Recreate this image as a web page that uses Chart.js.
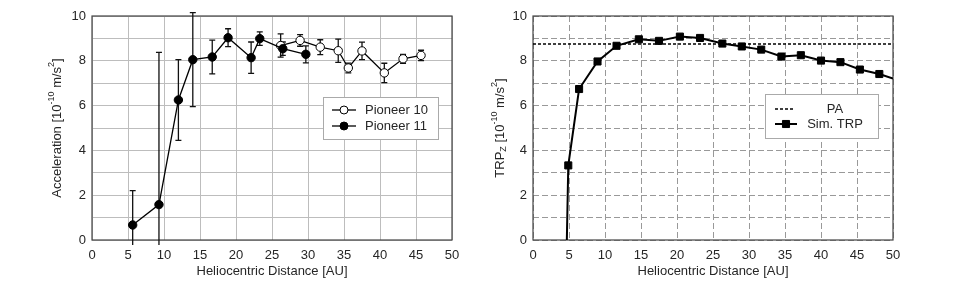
<!DOCTYPE html>
<html>
<head>
<meta charset="utf-8">
<title>Pioneer acceleration vs. simulated TRP</title>
<script src="https://cdn.jsdelivr.net/npm/chart.js@4.4.1/dist/chart.umd.min.js"></script>
<style>
    html, body { margin: 0; padding: 0; background: #fff; }
    #wrap { position: relative; width: 954px; height: 285px; }
    #wrap canvas { position: absolute; top: 0; }
    #accChart { left: 0; }
    #trpChart { left: 477px; }
</style>
</head>
<body>
<div id="wrap">
    <canvas id="accChart" width="477" height="285"></canvas>
    <canvas id="trpChart" width="477" height="285"></canvas>
</div>
<script>
// Pioneer 11 (filled circles) - distance [AU], acceleration [1e-10 m/s^2], error
const p11Dist = [5.65, 9.3, 12.0, 14.0, 16.7, 18.9, 22.1, 23.3, 26.5, 29.7];
const p11Acc  = [0.67, 1.58, 6.25, 8.05, 8.17, 9.03, 8.14, 8.99, 8.54, 8.29];
const p11Err  = [1.53, 6.8, 1.8, 2.1, 0.75, 0.4, 0.7, 0.3, 0.3, 0.38];

// Pioneer 10 (open circles)
const p10Dist = [26.2, 28.9, 31.7, 34.2, 35.6, 37.5, 40.6, 43.2, 45.7];
const p10Acc  = [8.68, 8.91, 8.61, 8.45, 7.68, 8.44, 7.46, 8.09, 8.24];
const p10Err  = [0.52, 0.26, 0.33, 0.52, 0.22, 0.39, 0.43, 0.2, 0.23];

// Simulated thermal recoil (first and last points are line ends, no marker)
const trpDist = [4.7, 4.9, 6.4, 8.96, 11.6, 14.7, 17.5, 20.4, 23.2, 26.3, 29.0, 31.7, 34.5, 37.2, 40.0, 42.7, 45.4, 48.1, 50];
const trpVal  = [0, 3.33, 6.74, 7.97, 8.67, 8.96, 8.89, 9.08, 9.02, 8.77, 8.64, 8.5, 8.19, 8.25, 8.01, 7.94, 7.61, 7.41, 7.21];
const trpMarked = trpDist.map((d, i) => i > 0 && i < trpDist.length - 1);

// Pioneer anomaly level
const paDist  = [0, 50];
const paLevel = 8.75;

const TEXT = '#262626';
const FONT = { family: '"Liberation Sans", Arial, sans-serif', size: 13 };

const toPoints = (xs, ys) => xs.map((x, i) => ({ x, y: ys[i] }));

/**
 * Plot frame drawn around the chart area.
 */
const framePlugin = {
    id: 'frame',
    beforeDatasetsDraw(chart) {
        const { ctx, chartArea: a } = chart;
        ctx.save();
        ctx.strokeStyle = '#444';
        ctx.lineWidth = 1.2;
        ctx.strokeRect(a.left, a.top, a.width, a.height);
        ctx.restore();
    }
};

/**
 * Vertical error bars with caps, read from dataset.errors.
 */
const errorBarPlugin = {
    id: 'errorBars',
    beforeDatasetsDraw(chart) {
        const { ctx, chartArea: a, scales: { x, y } } = chart;
        ctx.save();
        ctx.beginPath();
        ctx.rect(a.left - 10, 0, a.width + 20, a.bottom + 5);
        ctx.clip();
        ctx.strokeStyle = '#111';
        ctx.lineWidth = 1.3;
        chart.data.datasets.forEach(ds => {
            if (!ds.errors) return;
            ds.data.forEach((p, i) => {
                const px = x.getPixelForValue(p.x);
                const top = y.getPixelForValue(p.y + ds.errors[i]);
                const bot = y.getPixelForValue(p.y - ds.errors[i]);
                ctx.beginPath();
                ctx.moveTo(px, top); ctx.lineTo(px, bot);
                ctx.moveTo(px - 3, top); ctx.lineTo(px + 3, top);
                ctx.moveTo(px - 3, bot); ctx.lineTo(px + 3, bot);
                ctx.stroke();
            });
        });
        ctx.restore();
    }
};

/**
 * Rotated y-axis title with super/subscripts.
 */
const richTitlePlugin = {
    id: 'richTitle',
    afterDraw(chart, args, opts) {
        if (!opts.parts) return;
        const { ctx, chartArea: a } = chart;
        const big = `${FONT.size}px ${FONT.family}`;
        const small = `9px ${FONT.family}`;
        ctx.save();
        let total = 0;
        opts.parts.forEach(p => {
            ctx.font = p.sup || p.sub ? small : big;
            p.w = ctx.measureText(p.t).width;
            total += p.w;
        });
        ctx.translate(opts.x, (a.top + a.bottom) / 2);
        ctx.rotate(-Math.PI / 2);
        ctx.fillStyle = TEXT;
        ctx.textBaseline = 'middle';
        let cx = -total / 2;
        opts.parts.forEach(p => {
            ctx.font = p.sup || p.sub ? small : big;
            const dy = p.sup ? -5 : p.sub ? 4 : 0;
            ctx.fillText(p.t, cx, dy);
            cx += p.w;
        });
        ctx.restore();
    }
};

/**
 * Legend box placed inside the plot.
 */
const insetLegendPlugin = {
    id: 'insetLegend',
    afterDraw(chart, args, opts) {
        if (!opts.items) return;
        const { ctx } = chart;
        const b = opts.box;
        ctx.save();
        ctx.fillStyle = '#fff';
        ctx.fillRect(b.left, b.top, b.width, b.height);
        ctx.strokeStyle = '#aaa';
        ctx.lineWidth = 1;
        ctx.strokeRect(b.left + 0.5, b.top + 0.5, b.width, b.height);
        ctx.font = `${FONT.size}px ${FONT.family}`;
        ctx.textBaseline = 'middle';
        opts.items.forEach(it => {
            const mx = (it.x0 + it.x1) / 2;
            ctx.strokeStyle = '#000';
            ctx.lineWidth = it.lineWidth;
            ctx.setLineDash(it.dash || []);
            ctx.beginPath();
            ctx.moveTo(it.x0, it.y);
            ctx.lineTo(it.x1, it.y);
            ctx.stroke();
            ctx.setLineDash([]);
            if (it.marker) {
                ctx.fillStyle = it.fill;
                ctx.lineWidth = 1;
                ctx.beginPath();
                if (it.marker === 'circle') {
                    ctx.arc(mx, it.y, it.radius, 0, Math.PI * 2);
                } else {
                    const s = it.radius * Math.SQRT1_2;
                    ctx.rect(mx - s, it.y - s, s * 2, s * 2);
                }
                ctx.fill();
                ctx.stroke();
            }
            ctx.fillStyle = TEXT;
            ctx.textAlign = it.align;
            ctx.fillText(it.text, it.tx, it.y);
        });
        ctx.restore();
    }
};

/**
 * Shared x axis (heliocentric distance).
 */
function distanceAxis(gridColor, dash) {
    return {
        type: 'linear',
        min: 0,
        max: 50,
        ticks: { stepSize: 5, padding: 8, color: TEXT, font: FONT, autoSkip: false, maxRotation: 0 },
        grid: { drawTicks: false, color: gridColor },
        border: { display: false, dash: dash },
        title: {
            display: true,
            text: 'Heliocentric Distance [AU]',
            color: TEXT,
            font: FONT,
            padding: { top: 0, bottom: 6 }
        },
        afterFit: s => { s.height = 45; }
    };
}

/**
 * Shared y axis (0-10, labels every 2).
 */
function valueAxis(gridColor, dash, width) {
    return {
        type: 'linear',
        min: 0,
        max: 10,
        ticks: {
            stepSize: 1,
            padding: 6,
            color: TEXT,
            font: FONT,
            callback: v => (v % 2 === 0 ? v : '')
        },
        grid: { drawTicks: false, color: gridColor },
        border: { display: false, dash: dash },
        afterFit: s => { s.width = width; }
    };
}

/**
 * Left panel: measured Pioneer 10/11 accelerations.
 */
function createAccelerationChart() {
    new Chart(document.getElementById('accChart'), {
        type: 'line',
        data: {
            datasets: [
                {
                    label: 'Pioneer 11',
                    data: toPoints(p11Dist, p11Acc),
                    errors: p11Err,
                    borderColor: '#000',
                    backgroundColor: '#000',
                    borderWidth: 1.3,
                    pointRadius: 4.2,
                    pointBorderWidth: 1,
                    order: 0
                },
                {
                    label: 'Pioneer 10',
                    data: toPoints(p10Dist, p10Acc),
                    errors: p10Err,
                    borderColor: '#000',
                    backgroundColor: '#fff',
                    borderWidth: 1.3,
                    pointRadius: 4.2,
                    pointBorderWidth: 1,
                    order: 1
                }
            ]
        },
        options: {
            responsive: false,
            animation: false,
            devicePixelRatio: 1,
            layout: { padding: { left: 0, right: 25, top: 16, bottom: 0 } },
            plugins: {
                legend: { display: false },
                tooltip: { enabled: false },
                richTitle: {
                    x: 57,
                    parts: [
                        { t: 'Acceleration [10' }, { t: '-10', sup: true },
                        { t: ' m/s' }, { t: '2', sup: true }, { t: ']' }
                    ]
                },
                insetLegend: {
                    box: { left: 323, top: 97, width: 115, height: 42 },
                    items: [
                        { text: 'Pioneer 10', x0: 332, x1: 356, y: 110, tx: 365, align: 'left',
                          lineWidth: 1.3, marker: 'circle', radius: 4, fill: '#fff' },
                        { text: 'Pioneer 11', x0: 332, x1: 356, y: 126, tx: 365, align: 'left',
                          lineWidth: 1.3, marker: 'circle', radius: 4, fill: '#000' }
                    ]
                }
            },
            scales: {
                x: distanceAxis('#bdbdbd', []),
                y: valueAxis('#bdbdbd', [], 92)
            }
        },
        plugins: [framePlugin, errorBarPlugin, richTitlePlugin, insetLegendPlugin]
    });
}

/**
 * Right panel: simulated thermal recoil vs. the anomaly level.
 */
function createTrpChart() {
    new Chart(document.getElementById('trpChart'), {
        type: 'line',
        data: {
            datasets: [
                {
                    label: 'PA',
                    data: toPoints(paDist, paDist.map(() => paLevel)),
                    borderColor: '#000',
                    borderWidth: 1.5,
                    borderDash: [3, 2],
                    pointRadius: 0
                },
                {
                    label: 'Sim. TRP',
                    data: toPoints(trpDist, trpVal),
                    borderColor: '#000',
                    backgroundColor: '#000',
                    borderWidth: 2,
                    pointStyle: 'rect',
                    pointRadius: trpMarked.map(m => (m ? 5 : 0)),
                    pointBorderWidth: 1
                }
            ]
        },
        options: {
            responsive: false,
            animation: false,
            devicePixelRatio: 1,
            layout: { padding: { left: 0, right: 61, top: 16, bottom: 0 } },
            plugins: {
                legend: { display: false },
                tooltip: { enabled: false },
                richTitle: {
                    x: 23,
                    parts: [
                        { t: 'TRP' }, { t: 'Z', sub: true }, { t: ' [10' }, { t: '-10', sup: true },
                        { t: ' m/s' }, { t: '2', sup: true }, { t: ']' }
                    ]
                },
                insetLegend: {
                    box: { left: 288, top: 94, width: 113, height: 44 },
                    items: [
                        { text: 'PA', x0: 298, x1: 318, y: 109, tx: 358, align: 'center',
                          lineWidth: 1.5, dash: [3, 2] },
                        { text: 'Sim. TRP', x0: 298, x1: 320, y: 124, tx: 358, align: 'center',
                          lineWidth: 2, marker: 'rect', radius: 5, fill: '#000' }
                    ]
                }
            },
            scales: {
                x: distanceAxis('#999', [6, 3]),
                y: valueAxis('#999', [6, 3], 56)
            }
        },
        plugins: [framePlugin, richTitlePlugin, insetLegendPlugin]
    });
}

createAccelerationChart();
createTrpChart();
</script>
</body>
</html>
